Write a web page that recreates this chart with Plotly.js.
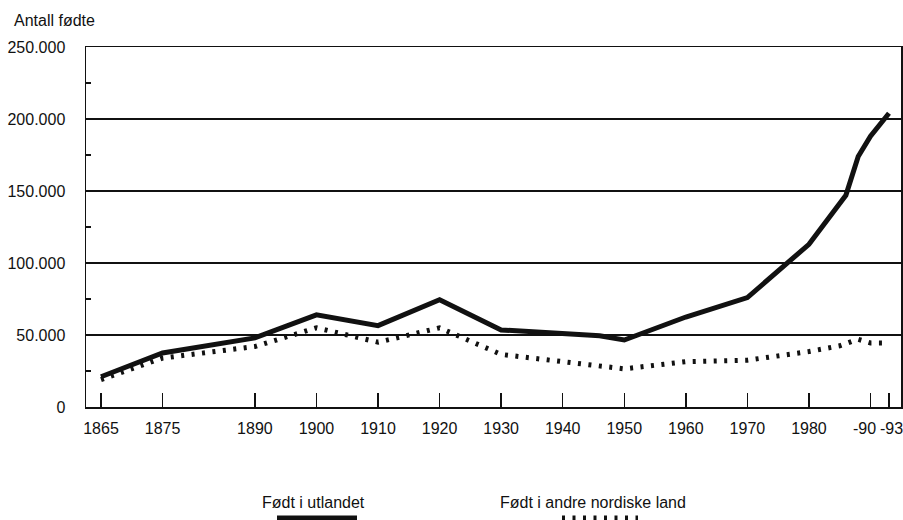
<!DOCTYPE html>
<html>
<head>
<meta charset="utf-8">
<script src="https://cdn.plot.ly/plotly-3.0.1.min.js"></script>
<style>
html,body{margin:0;padding:0;background:#fff;}
#chart{width:903px;height:520px;}
</style>
</head>
<body>
<div id="chart"></div>
<script>
// ---- data ----
const yearsUtland = [1865, 1870, 1875, 1890, 1900, 1910, 1920, 1930, 1946, 1950, 1960, 1970, 1980, 1986, 1988, 1990, 1993];
const valuesUtland = [21000, 29000, 37500, 48000, 64000, 56500, 74500, 53500, 49500, 46500, 62500, 76000, 113000, 147000, 174000, 188000, 204000];

const yearsNordisk = [1865, 1870, 1875, 1890, 1900, 1910, 1920, 1930, 1946, 1950, 1960, 1970, 1980, 1985, 1988, 1990, 1993];
const valuesNordisk = [19000, 26500, 34000, 42000, 55000, 45000, 55000, 36500, 28000, 26500, 31500, 32500, 38500, 42500, 47000, 44500, 44500];

const xTickVals = [1865, 1875, 1890, 1900, 1910, 1920, 1930, 1940, 1950, 1960, 1970, 1980, 1990, 1993];
const xTickText = ["1865", "1875", "1890", "1900", "1910", "1920", "1930", "1940", "1950", "1960", "1970", "1980", "-90", "-93"];
const yTickVals = [0, 50000, 100000, 150000, 200000, 250000];
const yTickText = ["0", "50.000", "100.000", "150.000", "200.000", "250.000"];
const yMinorVals = [25000, 75000, 125000, 175000, 225000];

const seriesNames = ["Født i utlandet", "Født i andre nordiske land"];
const yTitle = "Antall fødte";

// ---- layout helpers (pixel -> paper) ----
const W = 903, H = 520;
const L = 86, R = 2, T = 47, B = 113;
const PW = W - L - R, PH = H - T - B;
const px = X => (X - L) / PW;
const py = Y => (H - B - Y) / PH;

const FONT = "'Liberation Sans', Arial, Helvetica, sans-serif";
const FS = 16;
const INK = "#111";

// the last two tick labels sit close together: draw them as annotations nudged apart
const nAxisLabels = 2;
const axisTickText = xTickText.map((t, i) => i >= xTickText.length - nAxisLabels ? "" : t);
const labelShift = [-6, 3];
const tickLabelAnns = xTickVals.slice(-nAxisLabels).map((v, i) => ({
  text: xTickText[xTickText.length - nAxisLabels + i],
  xref: "x", yref: "paper", x: v, y: py(428), xshift: labelShift[i],
  xanchor: "center", yanchor: "middle", showarrow: false,
  font: {family: FONT, size: FS, color: INK}
}));

const traces = [
  {
    x: yearsUtland, y: valuesUtland, type: "scatter", mode: "lines",
    name: seriesNames[0],
    line: {color: INK, width: 5, shape: "linear"},
    hoverinfo: "skip"
  },
  {
    x: yearsNordisk, y: valuesNordisk, type: "scatter", mode: "lines",
    name: seriesNames[1],
    line: {color: INK, width: 5, dash: "3px,7.5px"},
    hoverinfo: "skip"
  }
];

const layout = {
  width: W, height: H,
  margin: {l: L, r: R, t: T, b: B, pad: 0},
  paper_bgcolor: "#fff", plot_bgcolor: "#fff",
  font: {family: FONT, size: FS, color: INK},
  showlegend: false,
  xaxis: {
    range: [1862.563, 1994.953],
    tickmode: "array", tickvals: xTickVals, ticktext: axisTickText,
    tickangle: 0,
    ticks: "inside", ticklen: 14, tickwidth: 1.5, tickcolor: INK,
    showgrid: false, zeroline: false,
    showline: true, linecolor: INK, linewidth: 1.5, mirror: true,
    ticklabelstandoff: 6,
    ticklabeloverflow: "allow",
    tickfont: {family: FONT, size: FS, color: INK}
  },
  yaxis: {
    range: [0, 250000],
    tickmode: "array", tickvals: yTickVals, ticktext: yTickText,
    ticks: "", showgrid: true, gridcolor: INK, gridwidth: 1.3,
    zeroline: false,
    showline: true, linecolor: INK, linewidth: 1.5, mirror: true,
    ticklabelstandoff: 16,
    ticklabeloverflow: "allow",
    tickfont: {family: FONT, size: FS, color: INK},
    minor: {tickmode: "array", tickvals: yMinorVals, ticks: "inside", ticklen: 5, tickwidth: 1.3, tickcolor: INK, showgrid: false}
  },
  annotations: [
    {text: yTitle, xref: "paper", yref: "paper", x: px(12), y: py(20), xanchor: "left", yanchor: "middle", showarrow: false, font: {family: FONT, size: FS, color: INK}},
    {text: seriesNames[0], xref: "paper", yref: "paper", x: px(313), y: py(502), xanchor: "center", yanchor: "middle", showarrow: false, font: {family: FONT, size: FS, color: INK}},
    {text: seriesNames[1], xref: "paper", yref: "paper", x: px(593), y: py(502), xanchor: "center", yanchor: "middle", showarrow: false, font: {family: FONT, size: FS, color: INK}}
  ].concat(tickLabelAnns),
  shapes: [
    {type: "line", xref: "paper", yref: "paper", x0: px(277), x1: px(357), y0: py(518), y1: py(518), line: {color: INK, width: 5}},
    {type: "line", xref: "paper", yref: "paper", x0: px(562), x1: px(638), y0: py(518), y1: py(518), line: {color: INK, width: 5, dash: "3px,7.5px"}}
  ]
};

Plotly.newPlot("chart", traces, layout, {displayModeBar: false, staticPlot: true});
</script>
</body>
</html>
